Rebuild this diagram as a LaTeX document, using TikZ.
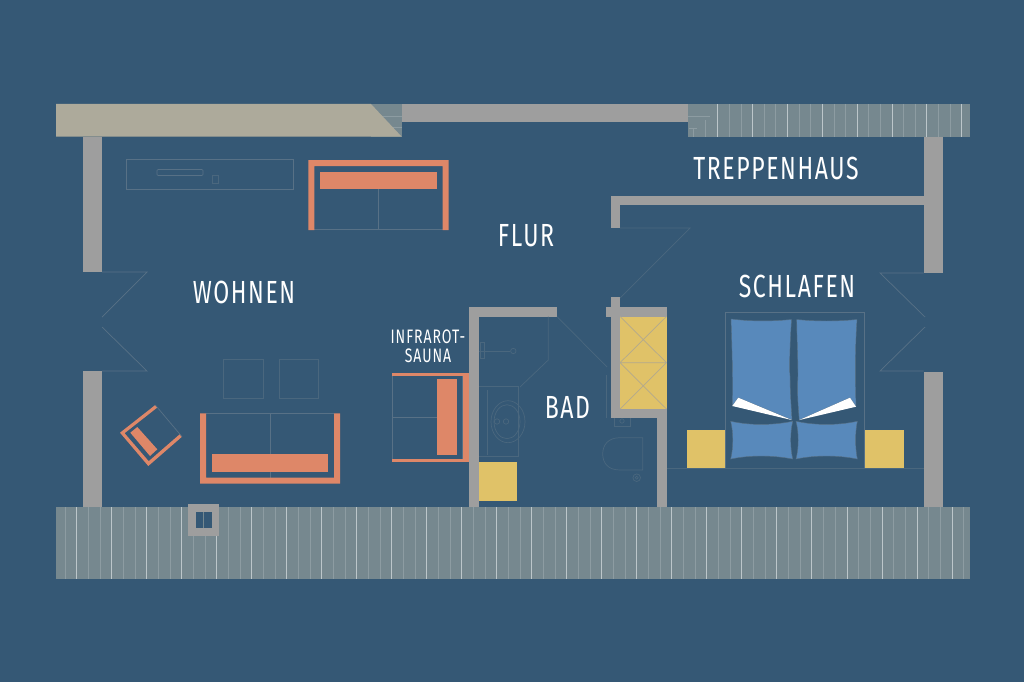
\documentclass[tikz,border=0pt]{standalone}
\usepackage{fontspec}
\setmainfont[FakeStretch=0.72,LetterSpace=5]{Fira Sans}
\definecolor{bgc}{HTML}{355875}
\definecolor{wallc}{HTML}{9E9E9E}
\definecolor{beigec}{HTML}{ADAA9B}
\definecolor{orangec}{HTML}{DE8768}
\definecolor{yellowc}{HTML}{E0C268}
\definecolor{bluec}{HTML}{5889BB}
\definecolor{stripec}{HTML}{76888F}
\definecolor{thinc}{HTML}{587186}
\definecolor{dimc}{HTML}{4A677E}
\definecolor{lightc}{HTML}{8D9CA2}
\definecolor{brightc}{HTML}{BCC6CA}
\tikzset{
 wall/.style={fill=wallc,draw=none},
 sofa/.style={fill=orangec,draw=none},
 box/.style={fill=yellowc,draw=none},
 thin/.style={draw=thinc,line width=0.7pt},
 dim/.style={draw=dimc,line width=0.7pt},
 band/.style={fill=stripec,draw=none},
 pillow/.style={fill=bluec,draw=thinc,line width=0.4pt},
 room/.style={text=white,font=\fontsize{32}{32}\selectfont,inner sep=0pt,anchor=center},
 smallroom/.style={text=white,font=\fontsize{19.5}{20}\selectfont,inner sep=0pt,align=center,anchor=center}
}
\begin{document}
\begin{tikzpicture}[x=1pt,y=-1pt]
\useasboundingbox (0,0) rectangle (1024,682);
\fill[bgc] (0,0) rectangle (1024,682);
% bands
\fill[band] (56,507) rectangle (970,579);
\fill[band] (688,104) rectangle (970,136.5);
\fill[band] (371,104) rectangle (402,136.5);
\foreach \i in {0,...,77}{
  \pgfmathsetmacro{\xx}{65+11.67*\i}
  \pgfmathtruncatemacro{\mm}{mod(\i,3)}
  \ifnum\mm=1 \draw[brightc,line width=0.8pt] (\xx,507) -- (\xx,579);
  \else \draw[lightc,line width=0.7pt] (\xx,507) -- (\xx,579);\fi
}
\foreach \i in {0,...,21}{
  \pgfmathsetmacro{\xx}{717.7+11.62*\i}
  \pgfmathtruncatemacro{\mm}{mod(\i,3)}
  \ifnum\mm=0 \draw[brightc,line width=0.8pt] (\xx,104) -- (\xx,136.5);
  \else \draw[lightc,line width=0.7pt] (\xx,104) -- (\xx,136.5);\fi
}
\draw[lightc,line width=0.7pt] (688,116.7) -- (710,116.7) (705.7,120) -- (705.7,136.5) (689,128.3) -- (697,128.3) (693,128.3) -- (693,136.5);
\draw[lightc,line width=0.7pt] (371,116) -- (402,116) (371,127.7) -- (402,127.7);
% beige
\fill[beigec] (56,104) -- (371,104) -- (401.5,136.5) -- (56,136.5) -- cycle;
% walls
\fill[wall] (402,104) rectangle (688,121.5);
\fill[wall] (83,136.5) rectangle (102,272);
\fill[wall] (83,371) rectangle (102,507);
\fill[wall] (923.5,136.5) rectangle (943,272.5);
\fill[wall] (923.5,371.5) rectangle (943,507);
\fill[wall] (611,196) rectangle (923.5,205);
\fill[wall] (611,196) rectangle (620,228);
\fill[wall] (469,307) rectangle (479,507);
\fill[wall] (469,307) rectangle (557,316.5);
\fill[wall] (611,297) rectangle (620,418);
\fill[wall] (606,307) rectangle (667,316.5);
\fill[wall] (611,409) rectangle (667,418);
\fill[wall] (657,409) rectangle (667,507);
\fill[wall] (188,504) rectangle (219,535.7);
\fill[bgc] (195.5,512) rectangle (211.5,528);
\draw[stripec,line width=0.6pt] (203.5,512) -- (203.5,528);
% door swings
\draw[thin] (102,272) -- (147,272) -- (102,317);
\draw[thin] (102,327) -- (147,371) -- (102,371);
\draw[thin] (923.5,273) -- (880,273) -- (925,317);
\draw[thin] (925,327) -- (880,371) -- (923.5,371);
\draw[dim] (620,228) -- (690,228) -- (620,298);
\draw[dim] (557,316.5) -- (607,367);
% yellow
\fill[box] (620,316.5) rectangle (666.5,409);
\draw[wallc!70!yellowc,line width=0.7pt] (620,362.7) -- (666.5,362.7) (620,316.5) -- (666.5,362.7) (666.5,316.5) -- (620,362.7) (620,362.7) -- (666.5,409) (666.5,362.7) -- (620,409);
\fill[box] (479,462) rectangle (517,500.5);
\fill[box] (686.7,429.5) rectangle (724.7,468.3);
\fill[box] (864.7,429.5) rectangle (903.7,468.3);
% sideboard
\draw[thin] (126,159.5) rectangle (293.5,189.5);
\draw[thinc,line width=0.7pt,rounded corners=1pt] (157,169.5) rectangle (203,175.5);
\draw[dimc,line width=0.6pt] (212,175) rectangle (218,183);
% top sofa
\draw[thin] (314.3,229.7) -- (442.7,229.7) (378,189.3) -- (378,230);
\fill[sofa] (308.3,230) -- (308.3,160) -- (448.7,160) -- (448.7,230) -- (442.7,230) -- (442.7,166) -- (314.3,166) -- (314.3,230) -- cycle;
\fill[sofa] (320,171.7) rectangle (437,189.3);
% bottom sofa
\draw[thin] (206,413.6) -- (334,413.6) (270,413.3) -- (270,477.7);
\fill[sofa] (200,413.3) -- (206,413.3) -- (206,477.7) -- (334,477.7) -- (334,413.3) -- (340,413.3) -- (340,483.7) -- (200,483.7) -- cycle;
\fill[sofa] (211.7,454.3) rectangle (328.3,472.3);
% squares
\draw[dim] (223.3,359) rectangle (263,398);
\draw[dim] (279,359) rectangle (318.5,398);
% chair
\fill[sofa] (155.3,405) -- (120,432.7) -- (148.3,466) -- (182,436.7) -- (179.8,434.2) -- (148.7,461.2) -- (124.6,433.2) -- (157.3,407.5) -- cycle;
\fill[sofa] (130.3,432.7) -- (137.3,427) -- (157.3,449.3) -- (150,456) -- cycle;
\draw[thin] (155.3,405) -- (182,436.7);
% sauna
\draw[thin] (392,376) -- (392,459) (462.8,376) -- (462.8,459) (392,417) -- (437,417);
\fill[sofa] (391.7,372.7) rectangle (469,376);
\fill[sofa] (391.7,459) rectangle (469,462.3);
\fill[sofa] (463.3,372.7) rectangle (469,462.3);
\fill[sofa] (437,378.7) rectangle (456.7,455.3);
% shower
\draw[dim] (548.3,316.5) -- (548.3,360) -- (520,387);
\draw[dim] (513.3,351) circle (2.7);
\draw[dim] (479,351) -- (510,351);
\draw[dim] (480,342) rectangle (484,358);
% sink
\draw[dim] (479,386.7) -- (518,386.7) -- (518,456.7) -- (479,456.7);
\draw[dim] (487,390) -- (487,455);
\draw[dim] (508,421.7) ellipse (17 and 21);
\draw[dim] (507,421.7) ellipse (13 and 17);
\draw[dim] (506,421.5) circle (2.7);
\draw[dim] (497,421.5) circle (2.7);
% toilet
\draw[dim] (642.7,437.7) -- (620,437.7) .. controls (608,437.7) and (602.7,445) .. (602.7,454) .. controls (602.7,463) and (608,470) .. (620,470) -- (642.7,470) -- cycle;
\draw[dim] (636.7,477.7) circle (3.8);
\draw[dim] (636.7,477.7) circle (1.5);
\draw[dim] (614,418) -- (614,426) -- (630,426) -- (630,418);
\draw[dim] (622,421) circle (2.2);
\draw[dim] (606.7,375) -- (606.7,418);
% bed
\draw[thin] (725,312.7) rectangle (864.3,468.3);
\draw[dim] (667,468.3) -- (923.5,468.3);
\path[pillow] (731,319) .. controls (750,321.5) and (772,321.5) .. (791.5,319.5) .. controls (790,340) and (789,370) .. (790,376) .. controls (790,390) and (791,405) .. (792,420) -- (738.3,397.7) -- (732.3,406) .. controls (733,380) and (732,345) .. (731,319) -- cycle;
\path[pillow] (796.7,319.5) .. controls (815,321.5) and (838,321.5) .. (857,319.5) .. controls (855,345) and (855,380) .. (856,406.7) -- (850,397.7) -- (799.3,420) .. controls (798,405) and (797,390) .. (798,376) .. controls (798,360) and (797,340) .. (796.7,319.5) -- cycle;
\fill[white] (732.3,406) -- (738.3,397.7) -- (791.7,420) -- cycle;
\fill[white] (799.3,420) -- (850,397.7) -- (856,406.7) -- cycle;
\path[pillow] (730.7,421.3) .. controls (750,425.5) and (772,425.5) .. (792.7,421.3) .. controls (790,432) and (790,448) .. (792.7,459) .. controls (772,455) and (750,455) .. (730.7,459) .. controls (733.5,448) and (733.5,432) .. (730.7,421.3) -- cycle;
\path[pillow] (796,421.3) .. controls (815,425.5) and (838,425.5) .. (857.3,421.3) .. controls (855,432) and (855,448) .. (857.3,459) .. controls (838,455) and (815,455) .. (796,459) .. controls (799,448) and (799,432) .. (796,421.3) -- cycle;
% labels
\node[room] (treppenhaus) at (776,168.5) {TREPPENHAUS};
\node[room] (flur) at (526,235.5) {FLUR};
\node[room] (wohnen) at (244,292) {WOHNEN};
\node[room] (schlafen) at (797,286.5) {SCHLAFEN};
\node[room] (bad) at (567.5,407.5) {BAD};
\node[smallroom] (infrarot) at (428,337) {INFRAROT-};
\node[smallroom] (sauna) at (428,356) {SAUNA};
\end{tikzpicture}
\end{document}
